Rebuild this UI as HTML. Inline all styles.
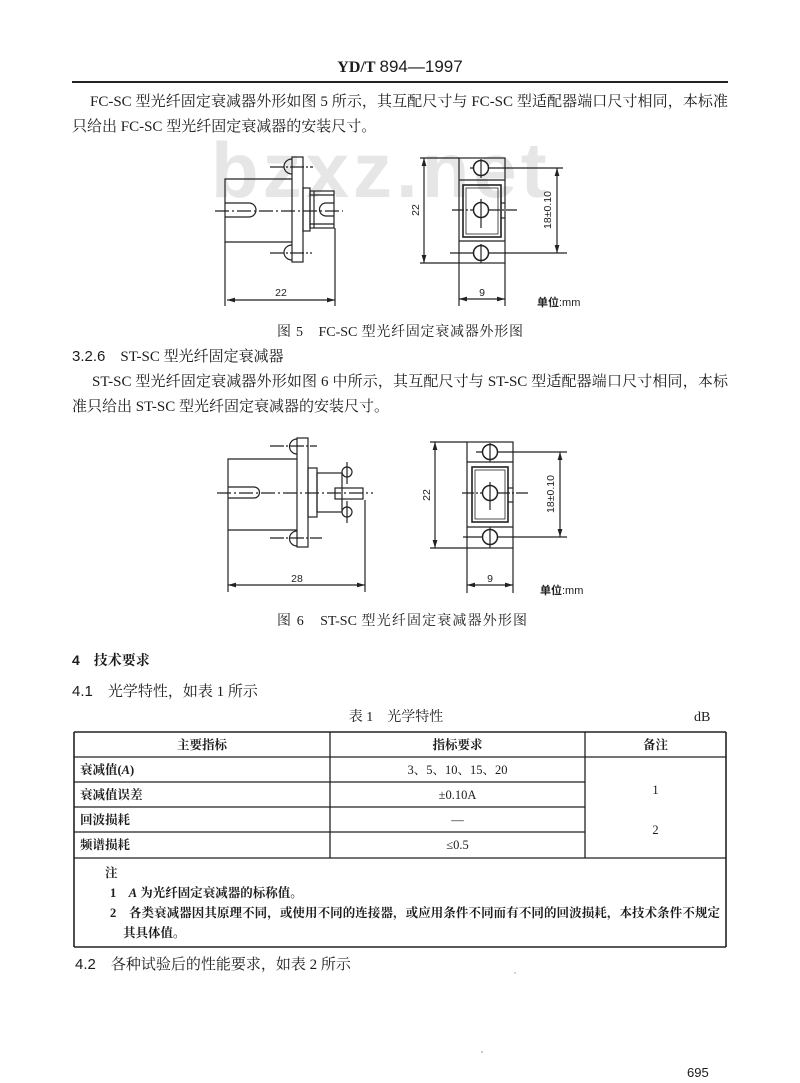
<!DOCTYPE html>
<html lang="zh-CN">
<head>
<meta charset="utf-8">
<style>
  html,body{margin:0;padding:0;background:#fff;}
  body{width:800px;height:1071px;position:relative;overflow:hidden;
       font-family:"Liberation Serif","Noto Serif CJK SC",serif;color:#1c1c1c;}
  .t{position:absolute;white-space:nowrap;line-height:20px;font-size:15px;}
  .j{position:absolute;line-height:20px;font-size:15px;text-align:justify;text-align-last:justify;}
  .s{font-family:"Liberation Sans","Noto Sans CJK SC",sans-serif;}
  .b{font-weight:bold;}
  .tb{position:absolute;line-height:18px;font-size:12.5px;white-space:nowrap;}
  .c{text-align:center;}
  .wm{position:absolute;left:211px;top:120px;font-family:"Liberation Sans",sans-serif;font-weight:bold;
      font-size:78px;letter-spacing:4px;color:#e6e6e6;line-height:100px;white-space:nowrap;}
</style>
</head>
<body>

<!-- watermark -->
<div class="wm">bzxz.net</div>

<!-- header -->
<div class="t c" style="left:0;top:57px;width:800px;font-size:16px;"><span class="b">YD/T</span> <span class="s" style="font-size:17px;">894—1997</span></div>
<div style="position:absolute;left:72px;top:81px;width:656px;height:2px;background:#222;"></div>

<!-- paragraph fig 5 -->
<div class="j" style="left:90px;top:92px;width:638px;">FC-SC 型光纤固定衰减器外形如图 5 所示，其互配尺寸与 FC-SC 型适配器端口尺寸相同，本标准</div>
<div class="t" style="left:72px;top:117px;">只给出 FC-SC 型光纤固定衰减器的安装尺寸。</div>

<!-- drawings -->
<svg width="800" height="1071" style="position:absolute;left:0;top:0;" xmlns="http://www.w3.org/2000/svg">
  <defs>
    <marker id="ar" viewBox="0 0 10 6" refX="10" refY="3" markerWidth="8" markerHeight="5" orient="auto-start-reverse" markerUnits="userSpaceOnUse">
      <path d="M0,0 L10,3 L0,6 z" fill="#222"/>
    </marker>
  </defs>

  <!-- ===== FIG 5 LEFT ===== -->
  <g stroke="#222" stroke-width="1.2" fill="none">
    <path d="M292,179 H225 V242 H292"/>
    <line x1="225" y1="242" x2="225" y2="306"/>
    <rect x="292" y="157" width="11" height="105"/>
    <path d="M292,159 A8,7.5 0 0 0 292,174"/>
    <path d="M292,245 A8,7.5 0 0 0 292,260"/>
    <line x1="270" y1="167" x2="313" y2="167" stroke-dasharray="14 2 2 2"/>
    <line x1="270" y1="253" x2="312" y2="253" stroke-dasharray="14 2 2 2"/>
    <rect x="303" y="188" width="7" height="43"/>
    <rect x="310" y="191" width="24" height="37"/>
    <line x1="314" y1="191" x2="314" y2="228"/>
    <line x1="310" y1="195" x2="334" y2="195"/>
    <line x1="310" y1="224" x2="334" y2="224"/>
    <path d="M334,203 H326 A6.5,6.5 0 0 0 326,216 H334"/>
    <path d="M225,203 H249 A7,7 0 0 1 249,217 H225"/>
    <line x1="215" y1="211" x2="343" y2="211" stroke-dasharray="14 3 2 3"/>
    <line x1="335" y1="228" x2="335" y2="306"/>
    <line x1="227" y1="300" x2="335" y2="300" marker-start="url(#ar)" marker-end="url(#ar)"/>
  </g>

  <!-- ===== FIG 5 RIGHT ===== -->
  <g stroke="#222" stroke-width="1.2" fill="none">
    <rect x="459" y="158" width="46" height="105"/>
    <line x1="459" y1="180" x2="505" y2="180"/>
    <line x1="459" y1="241" x2="505" y2="241"/>
    <rect x="463" y="185" width="38" height="52" stroke-width="1.6"/>
    <rect x="466" y="188" width="32" height="46" stroke-width="0.8"/>
    <line x1="501" y1="203" x2="505" y2="203"/>
    <line x1="501" y1="218" x2="505" y2="218"/>
    <line x1="470" y1="168" x2="563" y2="168"/>
    <line x1="452" y1="210" x2="517" y2="210" stroke-dasharray="12 2 2 2"/>
    <line x1="450" y1="253" x2="567" y2="253"/>
    <circle cx="481" cy="168" r="7.5" fill="#fff" stroke-width="1.5"/>
    <circle cx="481" cy="210" r="7.5" fill="#fff" stroke-width="1.5"/>
    <circle cx="481" cy="253" r="7.5" fill="#fff" stroke-width="1.5"/>
    <line x1="481" y1="159" x2="481" y2="178"/>
    <line x1="481" y1="199" x2="481" y2="228"/>
    <line x1="481" y1="244" x2="481" y2="263"/>
    <line x1="420" y1="158" x2="459" y2="158"/>
    <line x1="420" y1="263" x2="459" y2="263"/>
    <line x1="424" y1="158" x2="424" y2="263" marker-start="url(#ar)" marker-end="url(#ar)"/>
    <line x1="557" y1="168" x2="557" y2="253" marker-start="url(#ar)" marker-end="url(#ar)"/>
    <line x1="459" y1="263" x2="459" y2="306"/>
    <line x1="505" y1="263" x2="505" y2="306"/>
    <line x1="459" y1="299" x2="505" y2="299" marker-start="url(#ar)" marker-end="url(#ar)"/>
  </g>
  <g font-family="Liberation Sans, sans-serif" font-size="10.5" fill="#222">
    <text x="281" y="296" text-anchor="middle">22</text>
    <text x="482" y="296" text-anchor="middle">9</text>
    <text transform="translate(419,210) rotate(-90)" text-anchor="middle">22</text>
    <text transform="translate(551,210) rotate(-90)" text-anchor="middle">18±0.10</text>
  </g>
  <text x="537" y="306" font-size="11" fill="#222" font-family="Liberation Sans, Noto Sans CJK SC, sans-serif"><tspan font-weight="bold">单位</tspan>:mm</text>

  <!-- ===== FIG 6 LEFT ===== -->
  <g stroke="#222" stroke-width="1.2" fill="none">
    <path d="M297,459 H228 V530 H297"/>
    <line x1="228" y1="530" x2="228" y2="592"/>
    <rect x="297" y="438" width="11" height="109"/>
    <path d="M297,439 A7.5,7.5 0 0 0 297,454"/>
    <path d="M297,531 A7.5,7.5 0 0 0 297,546"/>
    <line x1="270" y1="446" x2="317" y2="446" stroke-dasharray="14 2 2 2"/>
    <line x1="270" y1="538" x2="322" y2="538" stroke-dasharray="14 2 2 2"/>
    <rect x="308" y="468" width="9" height="49"/>
    <rect x="317" y="473" width="25" height="39"/>
    <rect x="335" y="488" width="28" height="11"/>
    <circle cx="347" cy="472" r="5" fill="#fff"/>
    <circle cx="347" cy="512" r="5" fill="#fff"/>
    <line x1="347" y1="462" x2="347" y2="484"/>
    <line x1="347" y1="501" x2="347" y2="523"/>
    <path d="M228,487 H254 A5.5,5.5 0 0 1 254,498 H228"/>
    <line x1="217" y1="493" x2="373" y2="493" stroke-dasharray="14 3 2 3"/>
    <line x1="365" y1="500" x2="365" y2="592"/>
    <line x1="228" y1="585" x2="365" y2="585" marker-start="url(#ar)" marker-end="url(#ar)"/>
  </g>

  <!-- ===== FIG 6 RIGHT ===== -->
  <g stroke="#222" stroke-width="1.2" fill="none">
    <rect x="467" y="442" width="46" height="106"/>
    <line x1="467" y1="462" x2="513" y2="462"/>
    <line x1="467" y1="527" x2="513" y2="527"/>
    <rect x="472" y="467" width="36" height="55" stroke-width="1.6"/>
    <rect x="475" y="470" width="30" height="49" stroke-width="0.8"/>
    <line x1="508" y1="488" x2="513" y2="488"/>
    <line x1="508" y1="502" x2="513" y2="502"/>
    <line x1="476" y1="452" x2="567" y2="452"/>
    <line x1="462" y1="493" x2="528" y2="493" stroke-dasharray="12 2 2 2"/>
    <line x1="463" y1="537" x2="567" y2="537"/>
    <circle cx="490" cy="452" r="7.5" fill="#fff" stroke-width="1.5"/>
    <circle cx="490" cy="493" r="7.5" fill="#fff" stroke-width="1.5"/>
    <circle cx="490" cy="537" r="7.5" fill="#fff" stroke-width="1.5"/>
    <line x1="490" y1="443" x2="490" y2="462"/>
    <line x1="490" y1="482" x2="490" y2="510"/>
    <line x1="490" y1="527" x2="490" y2="548"/>
    <line x1="430" y1="442" x2="467" y2="442"/>
    <line x1="430" y1="548" x2="467" y2="548"/>
    <line x1="435" y1="442" x2="435" y2="548" marker-start="url(#ar)" marker-end="url(#ar)"/>
    <line x1="560" y1="452" x2="560" y2="537" marker-start="url(#ar)" marker-end="url(#ar)"/>
    <line x1="467" y1="548" x2="467" y2="593"/>
    <line x1="513" y1="548" x2="513" y2="593"/>
    <line x1="467" y1="585" x2="513" y2="585" marker-start="url(#ar)" marker-end="url(#ar)"/>
  </g>
  <g font-family="Liberation Sans, sans-serif" font-size="10.5" fill="#222">
    <text x="297" y="582" text-anchor="middle">28</text>
    <text x="490" y="582" text-anchor="middle">9</text>
    <text transform="translate(430,495) rotate(-90)" text-anchor="middle">22</text>
    <text transform="translate(554,494) rotate(-90)" text-anchor="middle">18±0.10</text>
  </g>
  <text x="540" y="594" font-size="11" fill="#222" font-family="Liberation Sans, Noto Sans CJK SC, sans-serif"><tspan font-weight="bold">单位</tspan>:mm</text>

  <!-- ===== TABLE LINES ===== -->
  <g stroke="#222" stroke-width="1.3" fill="none">
    <line x1="74" y1="732" x2="726" y2="732" stroke-width="1.6"/>
    <line x1="74" y1="757" x2="726" y2="757"/>
    <line x1="74" y1="782" x2="585" y2="782"/>
    <line x1="74" y1="807" x2="585" y2="807"/>
    <line x1="74" y1="832" x2="585" y2="832"/>
    <line x1="74" y1="858" x2="726" y2="858"/>
    <line x1="74" y1="947" x2="726" y2="947" stroke-width="1.6"/>
    <line x1="74" y1="732" x2="74" y2="947" stroke-width="1.6"/>
    <line x1="726" y1="732" x2="726" y2="947" stroke-width="1.6"/>
    <line x1="330" y1="732" x2="330" y2="858"/>
    <line x1="585" y1="732" x2="585" y2="858"/>
  </g>

  <!-- specks -->
  <circle cx="482" cy="1052" r="0.8" fill="#888"/>
  <circle cx="515" cy="973" r="0.7" fill="#999"/>
</svg>

<!-- captions -->
<div class="j" style="left:277px;top:323px;width:246px;font-size:14px;">图 5　FC-SC 型光纤固定衰减器外形图</div>

<div class="t" style="left:72px;top:347px;"><span class="s">3.2.6</span>　ST-SC 型光纤固定衰减器</div>
<div class="j" style="left:92px;top:372px;width:636px;">ST-SC 型光纤固定衰减器外形如图 6 中所示，其互配尺寸与 ST-SC 型适配器端口尺寸相同，本标</div>
<div class="t" style="left:72px;top:397px;">准只给出 ST-SC 型光纤固定衰减器的安装尺寸。</div>

<div class="j" style="left:277px;top:612px;width:250px;font-size:14px;">图 6　ST-SC 型光纤固定衰减器外形图</div>

<!-- section 4 -->
<div class="t b" style="left:72px;top:650px;font-size:14px;"><span class="s">4</span>　技术要求</div>
<div class="t" style="left:72px;top:682px;"><span class="s">4.1</span>　光学特性，如表 1 所示</div>
<div class="t c" style="left:296px;top:708px;width:200px;font-size:14px;">表 1　光学特性</div>
<div class="t" style="left:694px;top:708px;font-size:14px;">dB</div>

<!-- table text -->
<div class="tb c b" style="left:74px;top:736px;width:256px;">主要指标</div>
<div class="tb c b" style="left:330px;top:736px;width:255px;">指标要求</div>
<div class="tb c b" style="left:585px;top:736px;width:141px;">备注</div>

<div class="tb b" style="left:80px;top:761px;">衰减值(<i>A</i>)</div>
<div class="tb c" style="left:330px;top:761px;width:255px;">3、5、10、15、20</div>
<div class="tb b" style="left:80px;top:786px;">衰减值误差</div>
<div class="tb c" style="left:330px;top:786px;width:255px;">±0.10A</div>
<div class="tb b" style="left:80px;top:811px;">回波损耗</div>
<div class="tb c" style="left:330px;top:811px;width:255px;">—</div>
<div class="tb b" style="left:80px;top:836px;">频谱损耗</div>
<div class="tb c" style="left:330px;top:836px;width:255px;">≤0.5</div>

<div class="tb c" style="left:585px;top:781px;width:141px;">1</div>
<div class="tb c" style="left:585px;top:821px;width:141px;">2</div>

<!-- notes -->
<div class="tb b" style="left:105px;top:864px;">注</div>
<div class="tb b" style="left:110px;top:884px;">1　<i>A</i> 为光纤固定衰减器的标称值。</div>
<div class="tb b" style="left:110px;top:904px;width:610px;text-align:justify;text-align-last:justify;white-space:normal;">2　各类衰减器因其原理不同，或使用不同的连接器，或应用条件不同而有不同的回波损耗，本技术条件不规定</div>
<div class="tb b" style="left:123px;top:924px;">其具体值。</div>

<div class="t" style="left:75px;top:955px;"><span class="s">4.2</span>　各种试验后的性能要求，如表 2 所示</div>

<!-- page number -->
<div class="t s" style="left:687px;top:1063px;font-size:13px;">695</div>

</body>
</html>
